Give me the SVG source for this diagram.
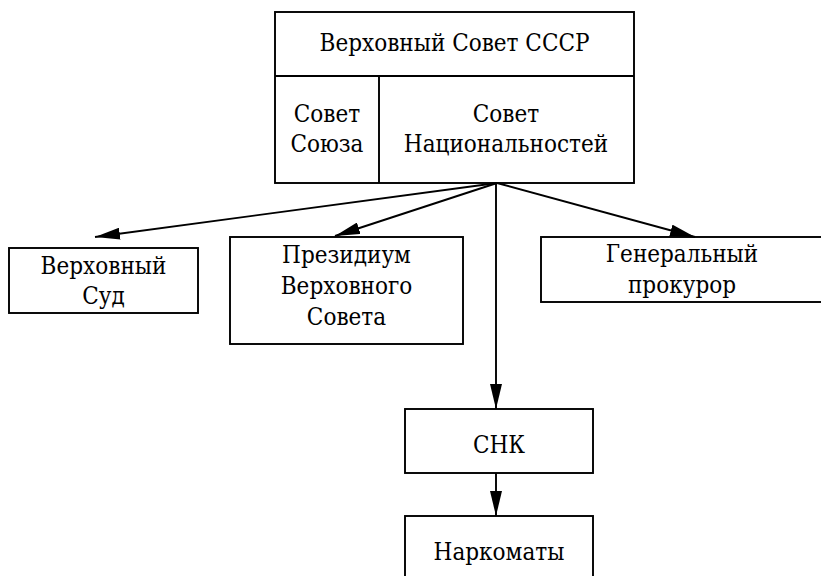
<svg xmlns="http://www.w3.org/2000/svg" width="821" height="576" viewBox="0 0 821 576">
<style>
.box{fill:#fff;stroke:#000;stroke-width:1.9}
.ln{fill:none;stroke:#000;stroke-width:1.9}
text{font-family:'DejaVu Serif Condensed','DejaVu Serif',serif;font-stretch:condensed;font-size:24px;fill:#000;text-anchor:middle}
</style>
<defs>
<marker id="arrow" viewBox="0 0 25 12" markerUnits="userSpaceOnUse" markerWidth="25" markerHeight="12" refX="25" refY="6" orient="auto">
<path d="M0,0 L25,6 L0,12 Z" fill="#000"/>
</marker>
</defs>
<rect width="821" height="576" fill="#fff"/>
<g id="soviet">
<rect class="box" x="275" y="12" width="359" height="171"/>
<line class="ln" x1="275" y1="76" x2="634" y2="76"/>
<line class="ln" x1="379" y1="76" x2="379" y2="183"/>
<text x="454.5" y="51">Верховный Совет СССР</text>
<text x="327" y="122">Совет</text>
<text x="327" y="152">Союза</text>
<text x="506" y="122">Совет</text>
<text x="506" y="152">Национальностей</text>
</g>
<g id="court">
<rect class="box" x="9" y="248" width="189" height="65"/>
<text x="103.5" y="274">Верховный</text>
<text x="103.5" y="304">Суд</text>
</g>
<g id="presidium">
<rect class="box" x="230" y="237" width="233" height="107"/>
<text x="346.5" y="263">Президиум</text>
<text x="346.5" y="294">Верховного</text>
<text x="346.5" y="325">Совета</text>
</g>
<g id="prosecutor">
<rect class="box" x="541" y="237" width="290" height="65"/>
<text x="682" y="262">Генеральный</text>
<text x="682" y="293">прокурор</text>
</g>
<g id="snk">
<rect class="box" x="405" y="409" width="188" height="64"/>
<text x="499" y="453">СНК</text>
</g>
<g id="narkomaty">
<rect class="box" x="405" y="516" width="188" height="70"/>
<text x="499" y="560">Наркоматы</text>
</g>
<g id="connectors">
<line class="ln" x1="497" y1="183" x2="95" y2="237" marker-end="url(#arrow)"/>
<line class="ln" x1="497" y1="183" x2="335" y2="236" marker-end="url(#arrow)"/>
<line class="ln" x1="497" y1="183" x2="695" y2="237" marker-end="url(#arrow)"/>
<line class="ln" x1="496" y1="183" x2="496" y2="409" marker-end="url(#arrow)"/>
<line class="ln" x1="496" y1="473" x2="496" y2="516" marker-end="url(#arrow)"/>
</g>
</svg>
